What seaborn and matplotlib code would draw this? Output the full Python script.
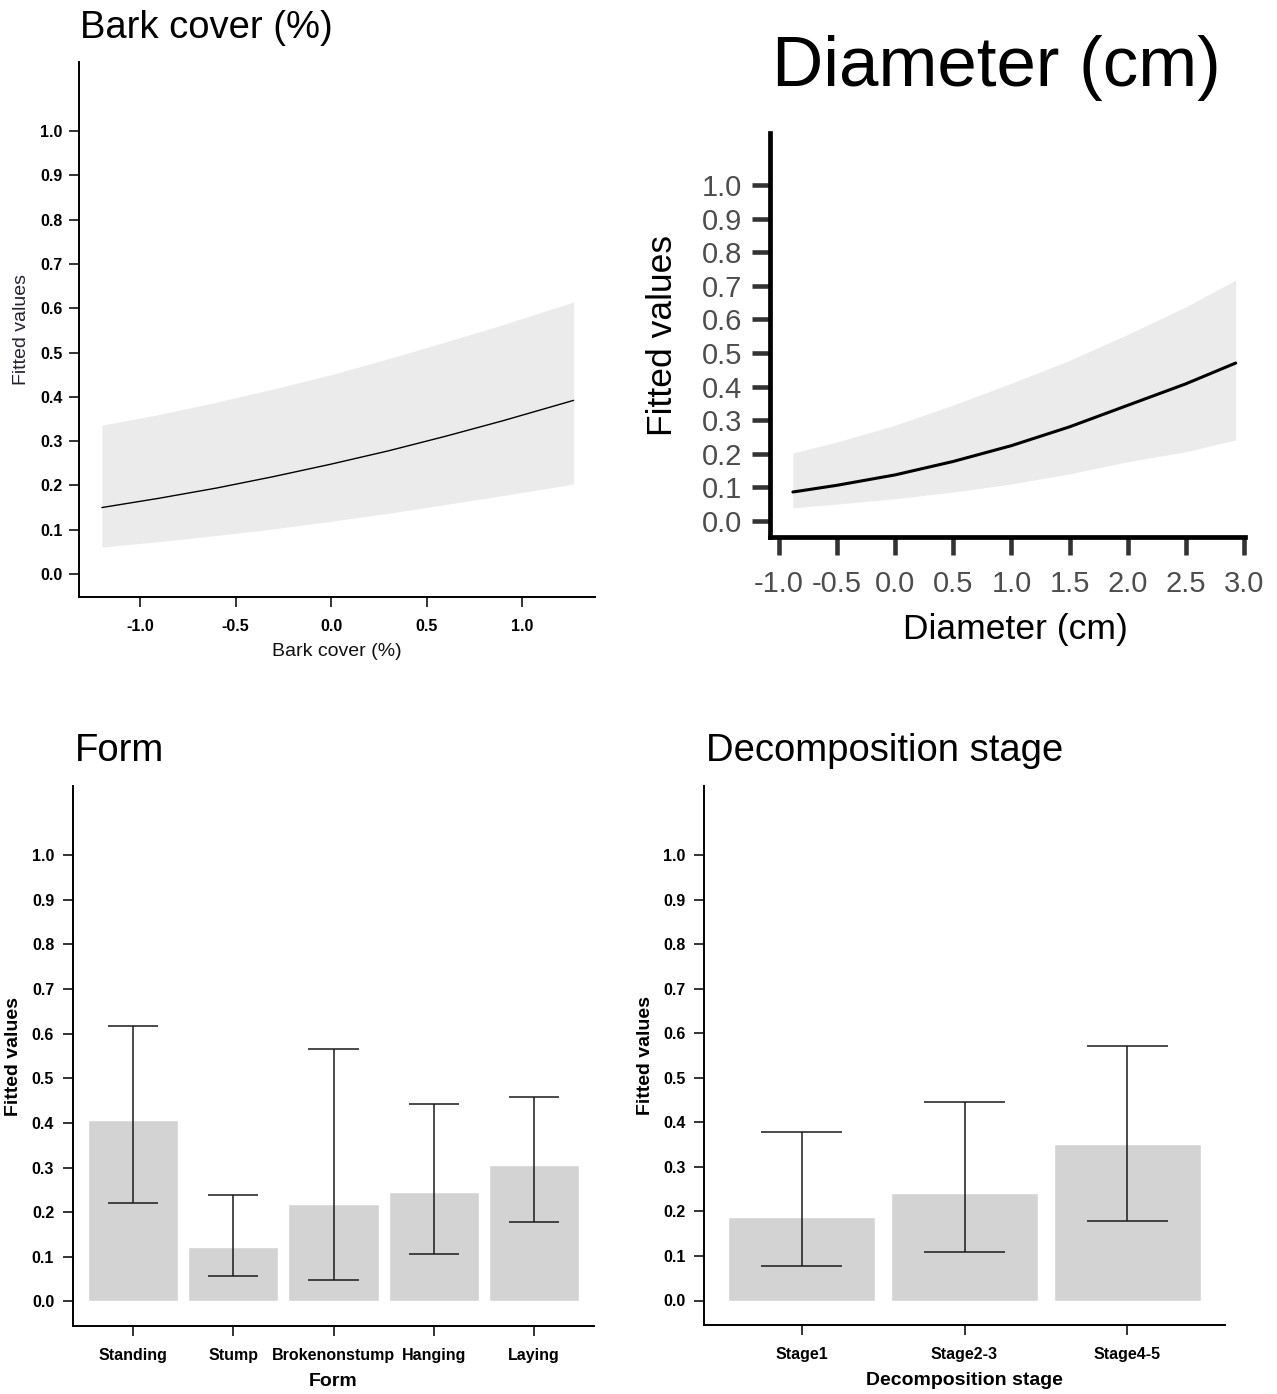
import numpy as np
import pandas as pd
import matplotlib
matplotlib.use('Agg')
from matplotlib import pyplot as plt
import seaborn as sns

sns.set_style('ticks')
plt.rcParams['font.family'] = ['Liberation Sans', 'DejaVu Sans']
plt.rcParams['text.color'] = 'black'
plt.rcParams['axes.labelcolor'] = 'black'

# bark cover curve
bark_x = [-1.2, -0.9, -0.6, -0.3, 0.0, 0.3, 0.6, 0.9, 1.27]
bark_fit = [0.150, 0.171, 0.194, 0.220, 0.248, 0.278, 0.311, 0.346, 0.392]
bark_lo = [0.061, 0.073, 0.087, 0.102, 0.119, 0.137, 0.157, 0.177, 0.203]
bark_hi = [0.336, 0.360, 0.388, 0.418, 0.450, 0.486, 0.524, 0.563, 0.614]

# diameter curve
diam_x = [-0.88, -0.5, 0.0, 0.5, 1.0, 1.5, 2.0, 2.5, 2.93]
diam_fit = [0.086, 0.106, 0.137, 0.177, 0.224, 0.280, 0.344, 0.408, 0.470]
diam_lo = [0.039, 0.050, 0.066, 0.086, 0.110, 0.140, 0.176, 0.206, 0.241]
diam_hi = [0.202, 0.235, 0.285, 0.345, 0.410, 0.478, 0.555, 0.637, 0.717]

# form bars
form_cats = ['Standing', 'Stump', 'Brokenonstump', 'Hanging', 'Laying']
form_fit = [0.407, 0.123, 0.219, 0.246, 0.306]
form_lo = [0.221, 0.058, 0.049, 0.107, 0.179]
form_hi = [0.617, 0.239, 0.566, 0.443, 0.459]

# decomposition bars
stage_cats = ['Stage1', 'Stage2-3', 'Stage4-5']
stage_fit = [0.188, 0.242, 0.352]
stage_lo = [0.078, 0.110, 0.179]
stage_hi = [0.379, 0.446, 0.572]

yticks = np.round(np.arange(0, 1.01, 0.1), 1)
W, H = 1277, 1394
fig = plt.figure(figsize=(W / 100, H / 100), dpi=100)


def place(l, t, r, b):
    return fig.add_axes([l / W, 1 - b / H, (r - l) / W, (b - t) / H])


def style_small(ax, ypad, xpad):
    sns.despine(ax=ax)
    for s in ['left', 'bottom']:
        ax.spines[s].set_linewidth(1.4)
        ax.spines[s].set_color('black')
    ax.tick_params(length=7, width=1.4, color='#333333',
                   labelsize=11.5, labelcolor='black')
    ax.tick_params(axis='y', pad=ypad)
    ax.tick_params(axis='x', pad=xpad)
    for lab in ax.get_xticklabels() + ax.get_yticklabels():
        lab.set_fontweight('bold')
    ax.set_facecolor('white')


# ---- Bark cover
ax1 = place(79, 62, 595, 597)
ax1.fill_between(bark_x, bark_lo, bark_hi, color='#EBEBEB', lw=0)
sns.lineplot(x=bark_x, y=bark_fit, color='black', lw=1, ax=ax1)
ax1.set_xlim(-1.32, 1.382)
ax1.set_ylim(-0.052, 1.156)
ax1.set_yticks(yticks)
ax1.set_xticks([-1.0, -0.5, 0.0, 0.5, 1.0])
ax1.set_yticklabels([f'{v:.1f}' for v in yticks])
ax1.set_xticklabels(['-1.0', '-0.5', '0.0', '0.5', '1.0'])
style_small(ax1, 5, 8.5)
ax1.set_ylabel('Fitted values', fontsize=14, color='#222233', va='center')
ax1.yaxis.set_label_coords((22 - 79) / 516, 0.5)
ax1.set_xlabel('Bark cover (%)', fontsize=14, color='#111111', va='center')
ax1.xaxis.set_label_coords(0.5, -(652 - 597) / 535)
fig.text(80 / W, 1 - 28 / H, 'Bark cover (%)', fontsize=27.5, va='center', ha='left')

# ---- Diameter
ax2 = place(770, 133, 1245, 537)
ax2.fill_between(diam_x, diam_lo, diam_hi, color='#EBEBEB', lw=0)
sns.lineplot(x=diam_x, y=diam_fit, color='black', lw=2.2, ax=ax2)
ax2.set_xlim(-1.077, 3.01)
ax2.set_ylim(-0.048, 1.155)
ax2.set_yticks(yticks)
ax2.set_yticklabels([f'{v:.1f}' for v in yticks])
dx = np.round(np.arange(-1.0, 3.01, 0.5), 1)
ax2.set_xticks(dx)
ax2.set_xticklabels([f'{v:.1f}' for v in dx])
sns.despine(ax=ax2)
for s in ['left', 'bottom']:
    ax2.spines[s].set_linewidth(3.4)
    ax2.spines[s].set_color('black')
ax2.tick_params(length=13, width=3.3, color='#333333',
                labelsize=21, labelcolor='#4D4D4D')
ax2.tick_params(axis='y', pad=7)
ax2.tick_params(axis='x', pad=11)
ax2.set_ylabel('Fitted values', fontsize=25.5, va='center')
ax2.yaxis.set_label_coords((662 - 770) / 475, 0.5)
ax2.set_xlabel('Diameter (cm)', fontsize=25.5, va='center')
ax2.xaxis.set_label_coords((1015 - 770) / 475, -(629 - 537) / 404)
fig.text(772 / W, 1 - 68 / H, 'Diameter (cm)', fontsize=51, va='center', ha='left')


# ---- bar panels
def bar_panel(ax, cats, fit, lo, hi, xlabel, ylabel_x):
    df = pd.DataFrame({'cat': cats, 'fit': fit})
    sns.barplot(data=df, x='cat', y='fit', color='#D3D3D3', saturation=1,
                width=0.9, errorbar=None, ax=ax)
    pos = np.arange(len(cats))
    ax.vlines(pos, lo, hi, color='#1a1a1a', lw=1.1)
    ax.hlines(lo, pos - 0.25, pos + 0.25, color='#1a1a1a', lw=1.1)
    ax.hlines(hi, pos - 0.25, pos + 0.25, color='#1a1a1a', lw=1.1)
    ax.set_xlim(-0.6, len(cats) - 0.4)
    ax.set_ylim(-0.055, 1.155)
    ax.set_yticks(yticks)
    ax.set_yticklabels([f'{v:.1f}' for v in yticks])
    style_small(ax, 6.5, 8.5)
    ax.set_ylabel('Fitted values', fontsize=14, fontweight='bold', va='center')
    ax.yaxis.set_label_coords(ylabel_x, 0.5)
    ax.set_xlabel(xlabel, fontsize=14, fontweight='bold', va='center')
    ax.xaxis.set_label_coords(0.5, -(1382 - 1326) / 540)


ax3 = place(73, 786, 594, 1326)
bar_panel(ax3, form_cats, form_fit, form_lo, form_hi, 'Form', (14 - 73) / 521)
fig.text(75 / W, 1 - 751 / H, 'Form', fontsize=27.5, va='center', ha='left')

ax4 = place(704, 786, 1225, 1325)
bar_panel(ax4, stage_cats, stage_fit, stage_lo, stage_hi,
          'Decomposition stage', (646 - 704) / 521)
fig.text(706 / W, 1 - 751 / H, 'Decomposition stage', fontsize=27.5,
         va='center', ha='left')

fig.savefig('out.png', dpi=100, facecolor='white')
